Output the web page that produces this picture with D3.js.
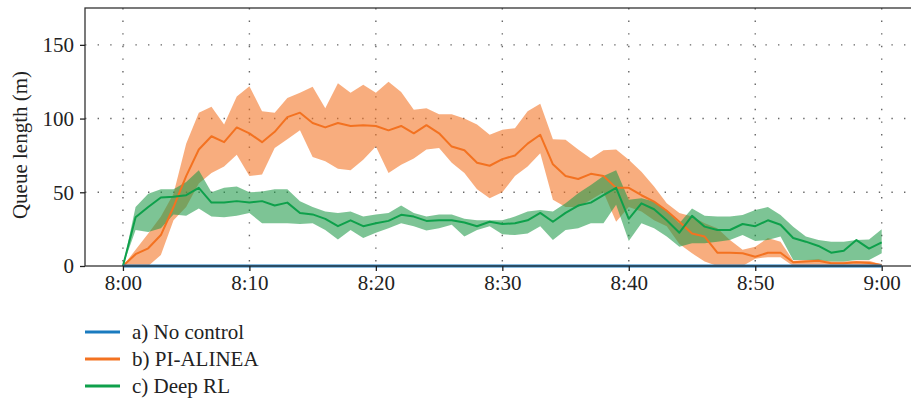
<!DOCTYPE html>
<html>
<head>
<meta charset="utf-8">
<script src="https://cdn.jsdelivr.net/npm/d3@7"></script>
<style>
  body { margin: 0; background: #fff; }
</style>
</head>
<body>
<svg id="chart" width="911" height="398"></svg>
<script>
// minutes after 8:00
const minutes = d3.range(61);
const xTickValues = [0, 10, 20, 30, 40, 50, 60];
const xTickLabels = ["8:00", "8:10", "8:20", "8:30", "8:40", "8:50", "9:00"];
const yTickValues = [0, 50, 100, 150];

const noControl = [0,0,0,0,0,0,0,0,0,0,0,0,0,0,0,0,0,0,0,0,0,0,0,0,0,0,0,0,0,0,0,
  0,0,0,0,0,0,0,0,0,0,0,0,0,0,0,0,0,0,0,0,0,0,0,0,0,0,0,0,0,0];

const alineaMean = [0,8,12,21,40,61,79,88,84,94,90,84,91,101,104,97,94,97,95,95.5,
  95,92,95,90,95.5,90,81,78.5,70,68,72.5,75,83,89,69,61,59,62.5,61,53,
  53,48,43.7,37.5,30,22,20,9,9,8.6,6.3,9,9,2.5,3,3.6,1.8,1.8,2.5,2,0.7];
const alineaHigh = [0,11,22,33.5,49,83,104,108,96,115,122,105,104,114,117.5,121.5,107,124,117.5,123,
  117.5,125,118,106,107,103,103,100,96,89,92.5,93.5,105,110,86,85.7,79,73,78.5,79,
  72,64,54,42.5,36,33.5,29,25.6,17.6,11,13,19,16.5,3.6,4,4.5,3,3,3.6,3.6,1];
const alineaLow = [0,0,0,7.5,31,40,56,63,67.5,75.5,61,62,80,86,92,74,71,66,65,72,
  81,63,68.7,73,79,80,70,63,52,46,50,61,67.5,76.5,45,40,40,45,50,30,
  40,37,31,27,15,8.6,3,0,0,0,5,6,6,0,0,0,0,0,0,0,0];

const rlMean = [0,33,40,46.5,47,48,53,43,43,44,43,44,41,43,36,35,32,27,31,27,
  29,30.6,34.7,33.5,30.6,31,31,29.5,27,30,28.5,29,31,36,30,36,41,43,48,53,
  32,42.5,38.5,31,22.6,34,26.7,24.4,24.4,28.5,27,31,28,19,16.5,13.6,9,10.4,17.6,11.8,16];
const rlHigh = [0,40,49,52,52,57,65,50,53,54,50,50.5,52,52,44,40,37,36,37,33.5,
  35,36,41,36,33.5,35,35,32,31,31,31,33.5,37,38,37,42.6,49.4,55,61,65,
  45,46,43.7,38,29,39,34,33.5,33.5,34.6,38,40,34.6,26.7,20,17.6,16.5,16.5,17.6,18,25];
const rlLow = [0,24.5,23,25.6,35,34,39,33.5,33,34,36,29,29,29,28.5,29,24.5,18,24.5,19,
  22.5,25.6,29,27,24,25.6,28,20,24.5,27,21.5,21,22,27,17.7,24.5,25.6,29,29,41.5,
  17,29,25.6,20,13,15.4,15.4,16.5,17.6,21,17,17.6,20,4,4,4,3,3,4,4,8.6];

const seriesNames = ["a) No control", "b) PI-ALINEA", "c) Deep RL"];
const seriesColors = ["#1a7bbf", "#f37221", "#0ea04b"];

const serif = '"Liberation Serif", "DejaVu Serif", "Times New Roman", serif';
const fontSize = 21;

const svg = d3.select("#chart");
// the original figure is cut off on the right, so the frame runs past the edge
const plotL = 85, plotR = 920, plotT = 8, plotB = 266;

const x = d3.scaleLinear().domain([-3, 62]).range([plotL, 907]);
const y = d3.scaleLinear().domain([0, 175]).range([plotB, plotT]);

// dotted grid
svg.append("g")
  .selectAll("line")
  .data(xTickValues)
  .join("line")
  .attr("x1", d => x(d)).attr("x2", d => x(d))
  .attr("y1", plotT).attr("y2", plotB)
  .attr("stroke", "#666").attr("stroke-width", 1.4)
  .attr("stroke-dasharray", "1.4,11.2");
svg.append("g")
  .selectAll("line")
  .data(yTickValues.slice(1))
  .join("line")
  .attr("x1", plotL).attr("x2", plotR)
  .attr("y1", d => y(d)).attr("y2", d => y(d))
  .attr("stroke", "#666").attr("stroke-width", 1.4)
  .attr("stroke-dasharray", "1.4,11.2");

// bands
const area = (lo, hi) => d3.area()
  .x((d, i) => x(minutes[i]))
  .y0((d, i) => y(lo[i]))
  .y1((d, i) => y(hi[i]));

svg.append("path")
  .datum(minutes)
  .attr("d", area(alineaLow, alineaHigh))
  .attr("fill", seriesColors[1]).attr("fill-opacity", 0.58);
svg.append("path")
  .datum(minutes)
  .attr("d", area(rlLow, rlHigh))
  .attr("fill", "#1f9a48").attr("fill-opacity", 0.58);

// lines
const line = vals => d3.line()
  .x((d, i) => x(minutes[i]))
  .y((d, i) => y(vals[i]));

[[alineaMean, 1], [rlMean, 2], [noControl, 0]].forEach(([vals, k]) => {
  svg.append("path")
    .datum(minutes)
    .attr("d", line(vals))
    .attr("fill", "none")
    .attr("stroke", seriesColors[k])
    .attr("stroke-width", k === 0 ? 3 : 2)
    .attr("stroke-linejoin", "round");
});

// frame
svg.append("rect")
  .attr("x", plotL).attr("y", plotT)
  .attr("width", plotR - plotL).attr("height", plotB - plotT)
  .attr("fill", "none").attr("stroke", "#333").attr("stroke-width", 1.3);

// axes
const xAxis = svg.append("g")
  .attr("transform", `translate(0,${plotB})`)
  .call(d3.axisBottom(x).tickValues(xTickValues)
    .tickFormat((d, i) => xTickLabels[i]).tickSize(5).tickPadding(4));
xAxis.select(".domain").remove();
xAxis.selectAll("line").attr("stroke", "#222").attr("stroke-width", 1.3);

const yAxis = svg.append("g")
  .attr("transform", `translate(${plotL},0)`)
  .call(d3.axisLeft(y).tickValues(yTickValues).tickSize(5).tickPadding(6));
yAxis.select(".domain").remove();
yAxis.selectAll("line").attr("stroke", "#222").attr("stroke-width", 1.3);

[xAxis, yAxis].forEach(g => g.attr("font-family", null).attr("font-size", null)
  .selectAll("text").style("font-family", serif).style("font-size", fontSize + "px")
  .attr("fill", "#222"));

svg.append("text")
  .attr("transform", `translate(27,${(plotT + plotB) / 2 + 8}) rotate(-90)`)
  .attr("text-anchor", "middle")
  .style("font-family", serif).style("font-size", fontSize + "px")
  .attr("fill", "#222")
  .text("Queue length (m)");

// legend
const legend = svg.append("g")
  .selectAll("g")
  .data(seriesNames)
  .join("g")
  .attr("transform", (d, i) => `translate(85,${332 + i * 27})`);
legend.append("line")
  .attr("x1", 0).attr("x2", 35)
  .attr("stroke", (d, i) => seriesColors[i]).attr("stroke-width", 3);
legend.append("text")
  .attr("x", 47).attr("dy", "0.33em")
  .style("font-family", serif).style("font-size", fontSize + "px")
  .attr("fill", "#222")
  .text(d => d);
</script>
</body>
</html>
